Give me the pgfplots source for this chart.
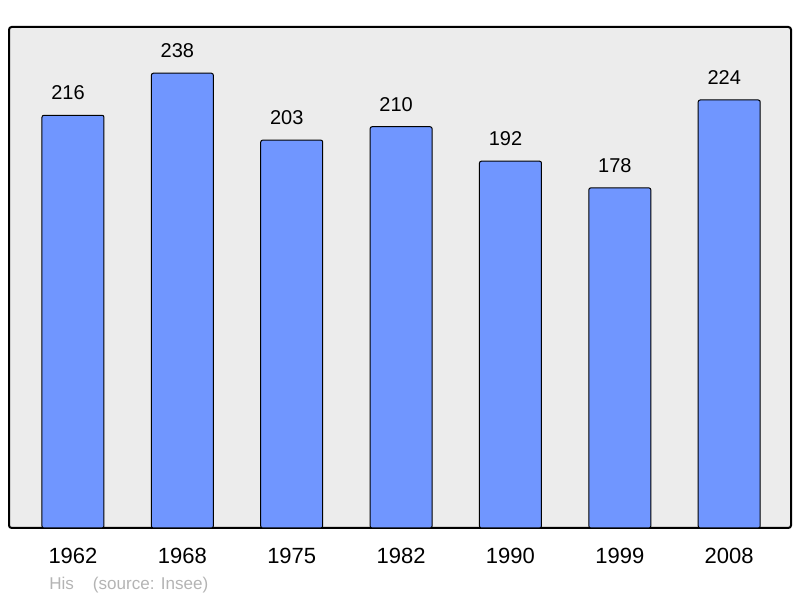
\documentclass[border=0pt]{standalone}
\usepackage{fontspec}
\setmainfont{Liberation Sans}
\usepackage{pgfplots}
\pgfplotsset{compat=1.18}
\definecolor{barblue}{RGB}{112,150,255}
\definecolor{bggray}{RGB}{236,236,236}
\definecolor{srcgray}{RGB}{180,180,180}
\begin{document}
\begin{tikzpicture}[x=0.75pt,y=0.75pt]
\begin{axis}[
  scale only axis, width=586.5pt, height=375.75pt,
  xmin=-0.585, xmax=6.565, ymin=0, ymax=262.2,
  axis background/.style={fill=bggray},
  axis line style={line width=1.5pt, rounded corners=2pt},
  ybar, bar width=0.567, bar shift=0pt,
  ytick=\empty,
  xtick={0,1,2,3,4,5,6},
  xticklabels={1962,1968,1975,1982,1990,1999,2008},
  major tick length=0pt,
  x tick label style={font=\fontsize{16.5}{18}\selectfont, anchor=base, yshift=-27pt, inner sep=0pt},
  nodes near coords,
  every node near coord/.append style={font=\fontsize{15}{17}\selectfont, anchor=base, yshift=11.5pt, xshift=-3.75pt, inner sep=0pt, black},
  /pgf/number format/assume math mode=true,
]
\addplot[fill=barblue, draw=black, line width=0.75pt, rounded corners=1.5pt] coordinates {
  (0,216) (1,238) (2,203) (3,210) (4,192) (5,178) (6,224)
};
\coordinate (ll) at (rel axis cs:0,0);
\end{axis}
\useasboundingbox ([shift={(-9,-70)}]ll) rectangle ([shift={(791,528)}]ll);
\node[anchor=base west, inner sep=0pt, text=srcgray, font=\fontsize{12.8}{14}\selectfont] at ([shift={(40,-62)}]ll) {His\hspace{14.25pt}(source: Insee)};
\end{tikzpicture}
\end{document}
